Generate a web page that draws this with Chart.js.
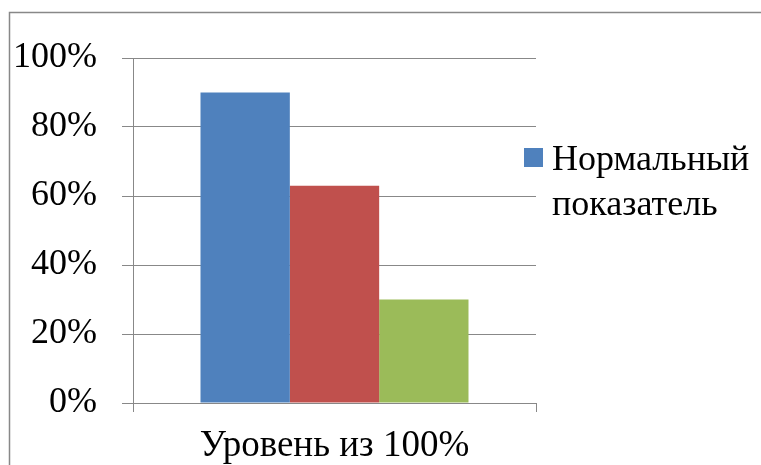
<!DOCTYPE html>
<html>
<head>
<meta charset="utf-8">
<script src="https://cdn.jsdelivr.net/npm/chart.js@4/dist/chart.umd.min.js"></script>
<style>
  html, body { margin: 0; padding: 0; background: #fff; }
  #box { position: relative; width: 761px; height: 465px; }
</style>
</head>
<body>
<div id="box"><canvas id="grafico"></canvas></div>
<script>
const categorias = ['Уровень из 100%'];
const nombresSeries = ['Нормальный показатель', 'Ряд 2', 'Ряд 3'];
const valores1 = [90];
const valores2 = [63];
const valores3 = [30];
const etiquetasLeyenda = ['Нормальный', 'показатель'];

const colores = ['#4F81BD', '#C0504D', '#9BBB59'];
const gris = '#888888';
const fuente = "'Liberation Serif', serif";

// marco de la imagen + leyenda de una sola serie
const marcoYLeyenda = {
  id: 'marcoYLeyenda',
  afterDraw(chart) {
    const ctx = chart.ctx;
    const area = chart.chartArea;
    ctx.save();
    ctx.strokeStyle = gris;
    ctx.lineWidth = 1.5;
    ctx.beginPath();
    ctx.moveTo(9.5, 465);
    ctx.lineTo(9.5, 12.5);
    ctx.lineTo(761, 12.5);
    ctx.stroke();

    const x = area.right - 12;
    ctx.fillStyle = colores[0];
    ctx.fillRect(x, 148, 19, 19);
    ctx.fillStyle = '#000';
    ctx.font = '36px ' + fuente;
    ctx.textBaseline = 'middle';
    ctx.fillText(etiquetasLeyenda[0], x + 28, 161);
    ctx.fillText(etiquetasLeyenda[1], x + 28, 206);
    ctx.restore();
  }
};

const ctx = document.getElementById('grafico');
new Chart(ctx, {
  type: 'bar',
  data: {
    labels: categorias,
    datasets: [
      { label: nombresSeries[0], data: valores1, backgroundColor: colores[0] },
      { label: nombresSeries[1], data: valores2, backgroundColor: colores[1] },
      { label: nombresSeries[2], data: valores3, backgroundColor: colores[2] }
    ]
  },
  options: {
    responsive: true,
    maintainAspectRatio: false,
    animation: false,
    categoryPercentage: 0.665,
    barPercentage: 1,
    layout: {
      padding: { top: 58, right: 225, bottom: 0, left: 0 }
    },
    plugins: {
      legend: { display: false },
      tooltip: { enabled: false }
    },
    scales: {
      x: {
        afterFit(scale) { scale.height = 62; },
        grid: {
          offset: true,
          drawOnChartArea: false,
          drawTicks: true,
          tickLength: 9,
          color: gris
        },
        border: { display: true, color: gris },
        ticks: {
          color: '#000',
          padding: 16,
          font: { size: 37, family: fuente, lineHeight: 1 }
        }
      },
      y: {
        min: 0,
        max: 100,
        afterFit(scale) { scale.width = 133; },
        grid: {
          color: gris,
          tickLength: 11
        },
        border: { display: true, color: gris },
        ticks: {
          stepSize: 20,
          color: '#000',
          padding: 25,
          font: { size: 36, family: fuente },
          callback: (v) => v + '%'
        }
      }
    }
  },
  plugins: [marcoYLeyenda]
});
</script>
</body>
</html>
